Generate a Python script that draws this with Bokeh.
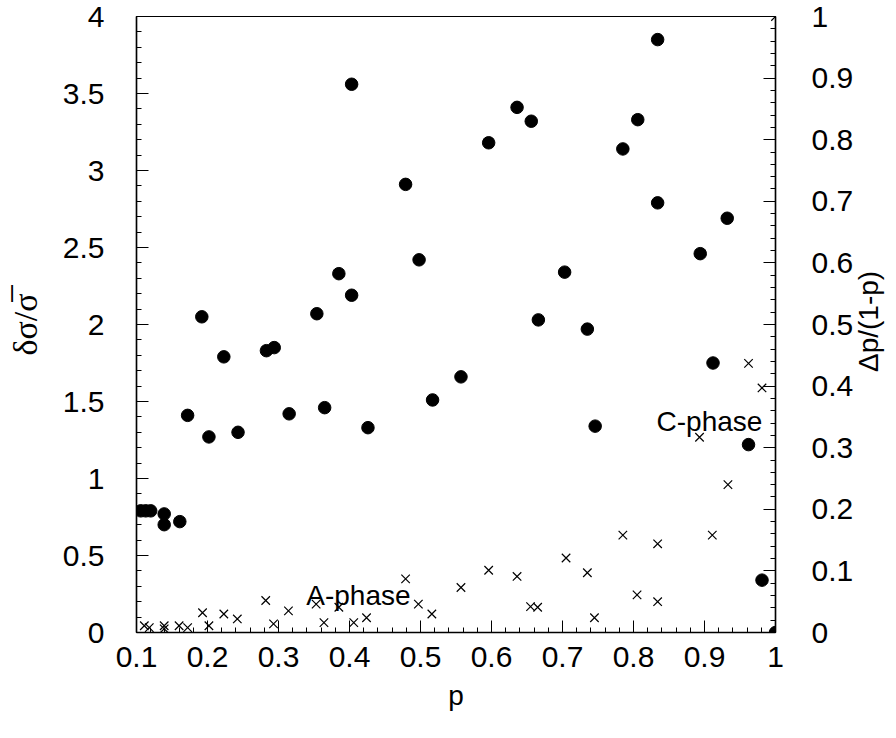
import math
import numpy as np
from bokeh.plotting import figure
from bokeh.layouts import row
from bokeh.models import Range1d, LinearAxis, FixedTicker, PrintfTickFormatter, Label
from bokeh.embed import file_html
from bokeh.resources import INLINE

# filled circles: relative fluctuation delta sigma / sigma-bar (left axis)
p_circles = [0.106, 0.113, 0.120, 0.139, 0.139, 0.161, 0.172, 0.192, 0.202, 0.223,
             0.243, 0.283, 0.294, 0.315, 0.354, 0.365, 0.385, 0.403, 0.403, 0.426,
             0.479, 0.498, 0.517, 0.557, 0.596, 0.636, 0.656, 0.666, 0.703, 0.735,
             0.746, 0.785, 0.806, 0.834, 0.834, 0.894, 0.912, 0.932, 0.962, 0.981, 1.0]
dsigma_over_sigma = [0.79, 0.79, 0.79, 0.77, 0.70, 0.72, 1.41, 2.05, 1.27, 1.79,
                     1.30, 1.83, 1.85, 1.42, 2.07, 1.46, 2.33, 2.19, 3.56, 1.33,
                     2.91, 2.42, 1.51, 1.66, 3.18, 3.41, 3.32, 2.03, 2.34, 1.97,
                     1.34, 3.14, 3.33, 3.85, 2.79, 2.46, 1.75, 2.69, 1.22, 0.34, 0.0]

# crosses: delta p / (1 - p) (right axis)
p_crosses = [0.111, 0.118, 0.139, 0.139, 0.160, 0.172, 0.193, 0.202, 0.223, 0.242,
             0.282, 0.293, 0.314, 0.353, 0.364, 0.385, 0.406, 0.424, 0.479, 0.497,
             0.516, 0.557, 0.596, 0.636, 0.655, 0.665, 0.705, 0.735, 0.745, 0.785,
             0.805, 0.834, 0.834, 0.893, 0.911, 0.933, 0.962, 0.981, 1.0]
dp_over_1mp = [0.011, 0.008, 0.011, 0.006, 0.011, 0.008, 0.032, 0.011, 0.030, 0.022,
               0.052, 0.014, 0.035, 0.046, 0.016, 0.041, 0.016, 0.024, 0.087, 0.046,
               0.030, 0.073, 0.101, 0.091, 0.042, 0.041, 0.121, 0.097, 0.024, 0.158,
               0.061, 0.144, 0.050, 0.317, 0.158, 0.240, 0.437, 0.397, 1.0]

x_ticks = [0.1, 0.2, 0.3, 0.4, 0.5, 0.6, 0.7, 0.8, 0.9, 1.0]
left_ticks = [0, 0.5, 1, 1.5, 2, 2.5, 3, 3.5, 4]
right_ticks = [0, 0.1, 0.2, 0.3, 0.4, 0.5, 0.6, 0.7, 0.8, 0.9, 1.0]

FONT = "Liberation Sans"
MAIN_W = 856
SIDE_W = 896 - MAIN_W
H = 738

p = figure(width=MAIN_W, height=H, x_range=Range1d(0.1, 1.0), y_range=Range1d(0, 4),
           output_backend="svg", toolbar_location=None,
           min_border_left=136, min_border_right=MAIN_W - 776,
           min_border_top=16, min_border_bottom=106)
p.extra_y_ranges = {"right": Range1d(0, 1)}
p.grid.visible = False
p.outline_line_color = "black"
p.outline_line_width = 1.2
p.background_fill_color = "white"
p.border_fill_color = "white"

def style_axis(ax, ticks, minor):
    ax.ticker = FixedTicker(ticks=ticks, minor_ticks=minor)
    ax.formatter = PrintfTickFormatter(format="%g")
    ax.major_tick_in = 12
    ax.major_tick_out = 0
    ax.minor_tick_in = 5
    ax.minor_tick_out = 0
    ax.axis_line_color = "black"
    ax.axis_line_width = 1.5
    ax.major_tick_line_color = "black"
    ax.minor_tick_line_color = "black"
    ax.major_label_text_font = FONT
    ax.major_label_text_font_size = "30px"
    ax.major_label_text_color = "black"
    ax.axis_label_text_color = "black"
    ax.axis_label_text_font_style = "normal"

style_axis(p.xaxis[0], x_ticks, list(np.round(np.arange(0.1, 1.0001, 0.02), 4)))
style_axis(p.yaxis[0], left_ticks, list(np.round(np.arange(0, 4.0001, 0.1), 4)))
p.xaxis[0].major_label_standoff = 14
p.yaxis[0].major_label_standoff = 32

p.xaxis[0].axis_label = "p"
p.xaxis[0].axis_label_text_font = FONT
p.xaxis[0].axis_label_text_font_size = "28px"
p.xaxis[0].axis_label_standoff = 10

p.yaxis[0].axis_label = "δσ/σ\u0305"
p.yaxis[0].axis_label_text_font = "Liberation Serif"
p.yaxis[0].axis_label_text_font_size = "34px"
p.yaxis[0].axis_label_standoff = 16

right = LinearAxis(y_range_name="right")
style_axis(right, right_ticks, list(np.round(np.arange(0, 1.0001, 0.02), 4)))
right.major_label_standoff = 36
p.add_layout(right, "right")

p.scatter(p_circles, dsigma_over_sigma, marker="circle", size=12.5,
          fill_color="black", line_color="black")
p.scatter(p_crosses, dp_over_1mp, marker="x", size=12, line_color="black",
          line_width=1.2, y_range_name="right")

p.add_layout(Label(x=0.4125, y=0.238, text="A-phase", text_font=FONT,
                   text_font_size="28px", text_align="center", text_baseline="middle",
                   text_color="black"))
p.add_layout(Label(x=0.907, y=1.37, text="C-phase", text_font=FONT,
                   text_font_size="28px", text_align="center", text_baseline="middle",
                   text_color="black"))

# side strip carrying the right-axis title, reading bottom to top
side = figure(width=SIDE_W, height=H, x_range=Range1d(0, SIDE_W), y_range=p.y_range,
              output_backend="svg", toolbar_location=None,
              x_axis_location=None, y_axis_location=None,
              min_border_left=0, min_border_right=0, min_border_top=16, min_border_bottom=106)
side.grid.visible = False
side.outline_line_color = None
side.background_fill_color = "white"
side.border_fill_color = "white"
side.add_layout(Label(x=12, y=2.02, text="Δp/(1-p)", angle=math.pi / 2,
                      text_font=FONT, text_font_size="28px", text_align="center",
                      text_baseline="middle", text_color="black"))

layout = row(p, side, spacing=0)
open("out.html", "w").write(file_html(layout, INLINE))
